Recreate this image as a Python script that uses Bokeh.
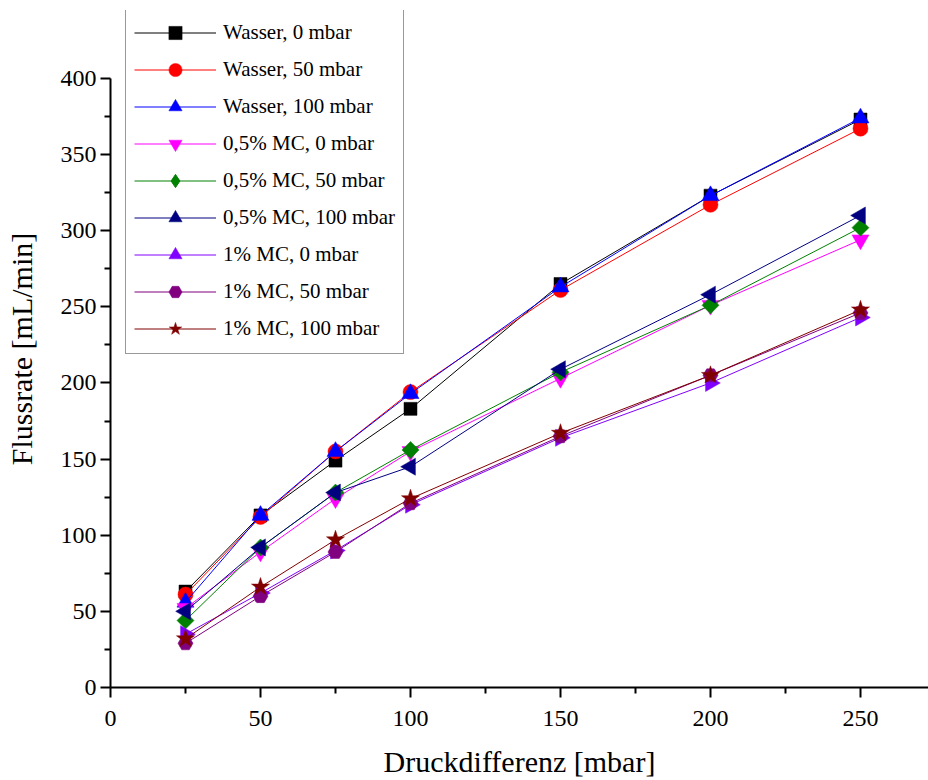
import math
from bokeh.plotting import figure
from bokeh.models import Range1d, FixedTicker, Legend, LegendItem
from bokeh.embed import file_html
from bokeh.resources import INLINE

x = [25, 50, 75, 100, 150, 200, 250]

labels = ["Wasser, 0 mbar", "Wasser, 50 mbar", "Wasser, 100 mbar",
          "0,5% MC, 0 mbar", "0,5% MC, 50 mbar", "0,5% MC, 100 mbar",
          "1% MC, 0 mbar", "1% MC, 50 mbar", "1% MC, 100 mbar"]

wasser_0 = [63, 113, 149, 183, 265, 323, 373]
wasser_50 = [61, 112, 155, 194, 261, 317, 367]
wasser_100 = [56, 113, 155, 193, 263, 323, 374]
mc05_0 = [52, 89, 124, 155, 203, 251, 294]
mc05_50 = [44, 92, 128, 156, 207, 251, 302]
mc05_100 = [50, 92, 128, 145, 209, 258, 310]
mc1_0 = [35, 62, 90, 120, 164, 200, 243]
mc1_50 = [29, 60, 89, 121, 165, 205, 246]
mc1_100 = [32, 66, 97, 124, 167, 205, 248]

series = [wasser_0, wasser_50, wasser_100, mc05_0, mc05_50, mc05_100, mc1_0, mc1_50, mc1_100]
colors = ["#000000", "#FF0000", "#0000FF", "#FF00FF", "#008000", "#000080", "#8000FF", "#800080", "#800000"]
markers = ["square", "circle", "triangle", "inverted_triangle", "square", "triangle", "triangle", "hex", "star"]
legend_markers = ["square", "circle", "triangle", "inverted_triangle", "diamond", "triangle", "triangle", "hex", "star"]
angles = [0, 0, 0, 0, math.pi / 4, math.pi / 2, -math.pi / 2, 0, 0]
sizes = [13, 15, 17, 17, 12, 17, 17, 15, 19]

x_ticks = [0, 50, 100, 150, 200, 250]
y_ticks = [0, 50, 100, 150, 200, 250, 300, 350, 400]

FONT = "Liberation Serif"

p = figure(width=928, height=780, output_backend="svg", toolbar_location=None,
           x_range=Range1d(0, 272.67), y_range=Range1d(0, 444.6),
           min_border_left=110, min_border_right=0, min_border_top=10, min_border_bottom=92)
p.outline_line_color = None
p.grid.visible = False
p.background_fill_color = "white"

items = []
for ys, c, m, lm, a, s, lab in zip(series, colors, markers, legend_markers, angles, sizes, labels):
    r_line = p.line(x, ys, line_color=c, line_width=1)
    r_pts = p.scatter(x, ys, marker=m, size=s, angle=a, fill_color=c, line_color=c, line_width=0.5)
    if lm != m:
        r_leg = p.scatter(x, ys, marker=lm, size=s, fill_color=c, line_color=c, visible=False)
        items.append(LegendItem(label=lab, renderers=[r_line, r_leg]))
    else:
        items.append(LegendItem(label=lab, renderers=[r_line, r_pts]))

for ax in (p.xaxis[0], p.yaxis[0]):
    ax.axis_line_width = 2
    ax.axis_line_color = "black"
    ax.major_tick_line_width = 2
    ax.minor_tick_line_width = 2
    ax.major_tick_out = 10
    ax.major_tick_in = 0
    ax.minor_tick_out = 6
    ax.minor_tick_in = 0
    ax.major_label_text_font = FONT
    ax.major_label_text_font_size = "24px"
    ax.major_label_text_color = "black"
    ax.axis_label_text_font = FONT
    ax.axis_label_text_font_size = "30px"
    ax.axis_label_text_font_style = "normal"
    ax.axis_label_text_color = "black"

p.xaxis.ticker = FixedTicker(ticks=x_ticks, minor_ticks=[25, 75, 125, 175, 225, 275])
p.yaxis.ticker = FixedTicker(ticks=y_ticks, minor_ticks=[25, 75, 125, 175, 225, 275, 325, 375])
p.yaxis.bounds = (0, 400)
p.xaxis.axis_label = "Druckdifferenz [mbar]"
p.yaxis.axis_label = "Flussrate [mL/min]"
p.xaxis.major_label_standoff = 13
p.xaxis.axis_label_standoff = 16
p.yaxis.major_label_standoff = 4
p.yaxis.axis_label_standoff = 20

lg = Legend(items=items, location=(15, 333))
lg.padding = 8
lg.spacing = 4
lg.margin = 0
lg.glyph_width = 82
lg.glyph_height = 33
lg.label_standoff = 7
lg.label_text_font = FONT
lg.label_text_font_size = "21px"
lg.label_text_color = "black"
lg.border_line_color = "#333333"
lg.border_line_width = 1
lg.background_fill_alpha = 1
p.add_layout(lg, "center")

open("out.html", "w").write(file_html(p, INLINE))
